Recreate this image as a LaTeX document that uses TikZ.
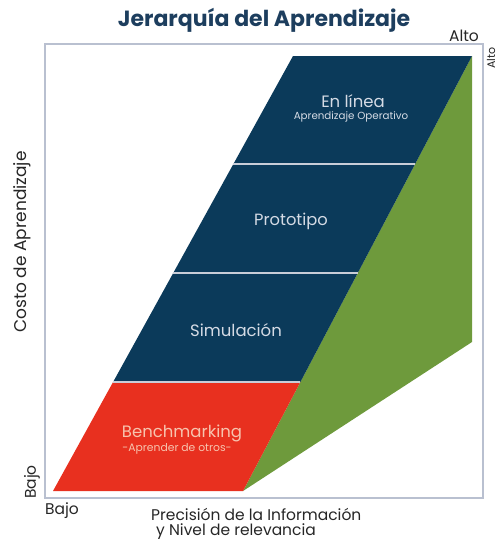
\documentclass[tikz,border=0pt]{standalone}
\usepackage{fontspec}
\setmainfont{Poppins}
\definecolor{navy}{HTML}{0B3A5A}
\definecolor{rojo}{HTML}{E8301F}
\definecolor{verde}{HTML}{6E9A3C}
\definecolor{titulo}{HTML}{1D3E5E}
\definecolor{marco}{HTML}{B9C0D0}
\definecolor{sep}{HTML}{C9CDD8}
\definecolor{txtband}{HTML}{D5DBE5}
\definecolor{txtred}{HTML}{F7C3AE}
\tikzset{
  band/.style={fill=navy, draw=none},
  bandtxt/.style={text=txtband, inner sep=0pt},
  axtxt/.style={text=black!85, inner sep=0pt},
  sepline/.style={draw=sep, line width=1.6pt}
}
\begin{document}
\begin{tikzpicture}[x=1pt,y=-1pt]
\useasboundingbox (0,0) rectangle (498,541);
% frame
\draw[marco, line width=1.4pt] (45,44) rectangle (483,498);
% green triangle
\coordinate (g1) at (243,491);
\coordinate (g2) at (472,56);
\coordinate (g3) at (472,342);
\fill[verde] (g1) -- (g2) -- (g3) -- cycle;
% bands
\coordinate (l0) at (293,56);  \coordinate (r0) at (472,56);
\coordinate (l1) at (233.4,164); \coordinate (r1) at (415.1,164);
\coordinate (l2) at (173.3,273); \coordinate (r2) at (357.8,273);
\coordinate (l3) at (113.1,382); \coordinate (r3) at (300.4,382);
\coordinate (l4) at (53,491);  \coordinate (r4) at (243,491);
\fill[band] (l0) -- (r0) -- (r3) -- (l3) -- cycle;
\fill[rojo] (l3) -- (r3) -- (r4) -- (l4) -- cycle;
\draw[sepline] (l1) -- (r1);
\draw[sepline] (l2) -- (r2);
\draw[sepline] (l3) -- (r3);
% texts in bands
\node[bandtxt, font=\fontsize{16.5}{16}\selectfont] (t1) at (353,101) {En línea};
\node[bandtxt, font=\fontsize{10.3}{10}\selectfont] (t1b) at (351,117) {Aprendizaje Operativo};
\node[bandtxt, font=\fontsize{16.3}{16}\selectfont] (t2) at (291,221) {Prototipo};
\node[bandtxt, font=\fontsize{16.5}{16}\selectfont] (t3) at (236,330) {Simulación};
\node[text=txtred, inner sep=0pt, font=\fontsize{16.5}{16}\selectfont] (t4) at (182,433) {Benchmarking};
\node[text=txtred, inner sep=0pt, font=\fontsize{10.8}{11}\selectfont] (t4b) at (177,449) {-Aprender de otros-};
% title
\node[text=titulo, inner sep=0pt, font=\fontsize{22}{22}\bfseries\selectfont] (title) at (264,20) {Jerarquía del Aprendizaje};
% axis labels
\node[axtxt, font=\fontsize{15.5}{16}\selectfont] (alto1) at (464,36) {Alto};
\node[axtxt, rotate=90, font=\fontsize{11}{11}\selectfont] (alto2) at (491,58) {Alto};
\node[axtxt, rotate=90, font=\fontsize{17}{17}\selectfont] (costo) at (22,242) {Costo de Aprendizaje};
\node[axtxt, rotate=90, font=\fontsize{15.5}{16}\selectfont] (bajo1) at (32,482) {Bajo};
\node[axtxt, font=\fontsize{15.5}{16}\selectfont] (bajo2) at (62,511) {Bajo};
\node[axtxt, anchor=north west, align=left, font=\fontsize{15.5}{15.5}\selectfont] (prec) at (151,508) {Precisión de la Información\\\hspace*{5pt}y Nivel de relevancia};
\end{tikzpicture}
\end{document}
